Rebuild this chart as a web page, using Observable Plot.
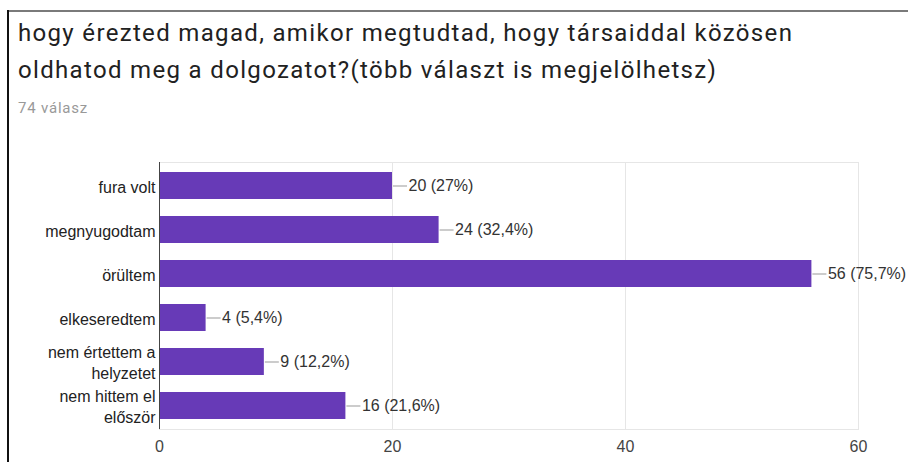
<!DOCTYPE html>
<html><head><meta charset="utf-8">
<script src="https://cdn.jsdelivr.net/npm/d3@7"></script>
<script src="https://cdn.jsdelivr.net/npm/@observablehq/plot@0.6"></script>
<style>
html,body{margin:0;padding:0;background:#fff}
body{width:908px;height:462px;overflow:hidden;position:relative;font-family:Roboto,"Liberation Sans",sans-serif}
#chart{position:absolute;left:0;top:150px;z-index:0}
#topline{position:absolute;left:8px;top:10px;width:900px;height:2px;background:#7a7a7a;z-index:2}
#leftline{position:absolute;left:7px;top:10px;width:2px;height:452px;background:#111;z-index:2}
#title{position:absolute;left:18px;top:15px;font-size:24px;letter-spacing:1.33px;line-height:37px;color:#212121;white-space:nowrap}
#sub{position:absolute;left:18px;top:99px;font-size:15px;letter-spacing:0.8px;color:#999}
</style>
</head><body>
<div id="chart"></div>
<div id="topline"></div>
<div id="leftline"></div>
<div id="title">hogy érezted magad, amikor megtudtad, hogy társaiddal közösen<br>oldhatod meg a dolgozatot?(több választ is megjelölhetsz)</div>
<div id="sub">74 válasz</div>
<script>
const categories = ["fura volt","megnyugodtam","örültem","elkeseredtem","nem értettem a\nhelyzetet","nem hittem el\nelőször"];
const counts = [20,24,56,4,9,16];
const percents = ["27%","32,4%","75,7%","5,4%","12,2%","21,6%"];
const xTicks = [0,20,40,60];

const data = categories.map((c,i)=>({cat:c, n:counts[i], p:percents[i]}));

const chart = Plot.plot({
  width: 908,
  height: 312,
  marginLeft: 159,
  marginRight: 50,
  marginTop: 12,
  marginBottom: 33,
  style: {fontFamily: "'Liberation Sans', Arial, sans-serif", fontSize: "16px", color: "#222", background: "transparent"},
  x: {domain: [0,60], axis: null, label: null},
  y: {domain: categories, paddingInner: 0.39, paddingOuter: 0.2, axis: null, label: null},
  marks: [
    Plot.gridX(xTicks, {stroke: "#e6e6e6", strokeOpacity: 1}),
    Plot.frame({stroke: "#e6e6e6"}),
    Plot.barX(data, {y: "cat", x: "n", fill: "#673ab7"}),
    Plot.ruleY(data, {y: "cat", x1: "n", x2: "n", stroke: "#999", insetLeft: 1, insetRight: -15}),
    Plot.text(data, {y: "cat", x: "n", text: d => `${d.n} (${d.p})`, textAnchor: "start", dx: 16, fill: "#333"}),
    Plot.ruleX([0], {stroke: "#444"}),
    Plot.axisX({ticks: xTicks, tickSize: 0, tickPadding: 11, fill: "#444", tickFormat: d => d, label: null}),
    Plot.axisY({tickSize: 0, tickPadding: 4, fill: "#222", lineHeight: 1.3, label: null})
  ]
});
document.getElementById("chart").appendChild(chart);
</script>
</body></html>
